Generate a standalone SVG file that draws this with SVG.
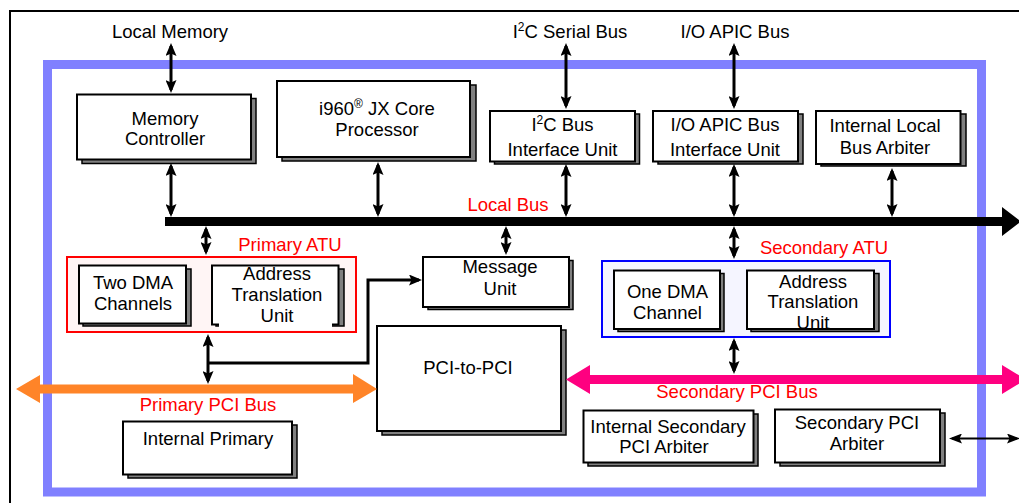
<svg xmlns="http://www.w3.org/2000/svg" width="1019" height="503" viewBox="0 0 1019 503">
<style>
.t{font-family:"Liberation Sans",Arial,Helvetica,sans-serif;font-size:18.5px;text-anchor:middle;fill:#000}
.r{fill:#ff0000}
.box{fill:#fff;stroke:#000;stroke-width:2}
.sh{fill:#808080;stroke:#000;stroke-width:1.5}
.arr{fill:none;stroke:#000;stroke-width:3;marker-start:url(#ah);marker-end:url(#ah)}
.arr1{fill:none;stroke:#000;stroke-width:3;marker-end:url(#ah)}
.arrs{fill:none;stroke:#000;stroke-width:2;marker-start:url(#ahs);marker-end:url(#ahs)}
</style>
<defs>
<marker id="ah" viewBox="0 0 13 11" refX="10" refY="5.5" markerWidth="13" markerHeight="11" markerUnits="userSpaceOnUse" orient="auto-start-reverse"><path d="M0,0 L13,5.5 L0,11 L2.5,5.5 z" fill="#000"/></marker>
<marker id="ahs" viewBox="0 0 13 10" refX="10" refY="5" markerWidth="13" markerHeight="10" markerUnits="userSpaceOnUse" orient="auto-start-reverse"><path d="M0,0 L13,5 L0,10 L2.5,5 z" fill="#000"/></marker>
</defs>
<rect width="1019" height="503" fill="#fff"/>
<g id="frame">
<rect x="10" y="11" width="1030" height="510" fill="none" stroke="#000" stroke-width="2"/>
<rect x="47.5" y="64.5" width="934" height="427.5" fill="none" stroke="#8080ff" stroke-width="9"/>
</g>
<g id="memory-controller">
<rect class="sh" x="82" y="98.5" width="174" height="65"/>
<rect class="box" x="77" y="94.5" width="174" height="65"/>
<text class="t" x="165" y="125">Memory</text>
<text class="t" x="165" y="145">Controller</text>
</g>
<g id="core-processor">
<rect class="sh" x="282" y="85" width="194" height="76"/>
<rect class="box" x="277" y="81" width="193" height="76"/>
<text class="t" x="377" y="115">i960<tspan font-size="12" dy="-7">®</tspan><tspan dy="7"> JX Core</tspan></text>
<text class="t" x="377" y="136">Processor</text>
</g>
<g id="i2c-unit">
<rect class="sh" x="494.5" y="114" width="145" height="50"/>
<rect class="box" x="490" y="111" width="145" height="50.5"/>
<text class="t" x="562.5" y="131">I<tspan font-size="12" dy="-7">2</tspan><tspan dy="7">C Bus</tspan></text>
<text class="t" x="562.5" y="156">Interface Unit</text>
</g>
<g id="ioapic-unit">
<rect class="sh" x="658" y="114" width="145" height="50"/>
<rect class="box" x="653" y="111" width="145" height="50.5"/>
<text class="t" x="725" y="131">I/O APIC Bus</text>
<text class="t" x="725" y="156">Interface Unit</text>
</g>
<g id="local-bus-arbiter">
<rect class="sh" x="821" y="114" width="145" height="52"/>
<rect class="box" x="816" y="111" width="144.5" height="53"/>
<text class="t" x="885" y="132">Internal Local</text>
<text class="t" x="885" y="153.5">Bus Arbiter</text>
</g>
<g id="primary-atu">
<rect x="67" y="257" width="289" height="75" fill="#fff5f5" stroke="#ff0000" stroke-width="2"/>
<text class="t r" x="290" y="251">Primary ATU</text>
<g id="two-dma">
<rect class="sh" x="83" y="269" width="108" height="57"/>
<rect class="box" x="79" y="265.5" width="107" height="58"/>
<text class="t" x="133" y="289">Two DMA</text>
<text class="t" x="133" y="310">Channels</text>
</g>
<g id="primary-address-unit">
<rect class="sh" x="216" y="269" width="128" height="57"/>
<rect class="box" x="212" y="265.5" width="126.5" height="59"/>
<rect x="219" y="321" width="113" height="9" fill="#fff"/>
<text class="t" x="277" y="280">Address</text>
<text class="t" x="277" y="301">Translation</text>
<text class="t" x="277" y="322">Unit</text>
</g>
</g>
<g id="message-unit">
<rect class="sh" x="428" y="260.5" width="145" height="49"/>
<rect class="box" x="423" y="257" width="146" height="50"/>
<text class="t" x="500" y="273">Message</text>
<text class="t" x="500" y="294.5">Unit</text>
</g>
<g id="secondary-atu">
<rect x="602" y="261" width="288" height="76" fill="#f5f5ff" stroke="#0000ff" stroke-width="2"/>
<text class="t r" x="824" y="254">Secondary ATU</text>
<g id="one-dma">
<rect class="sh" x="618" y="273.5" width="106" height="58"/>
<rect class="box" x="614" y="270.5" width="106" height="58.5"/>
<text class="t" x="667.5" y="297.5">One DMA</text>
<text class="t" x="667.5" y="319">Channel</text>
</g>
<g id="secondary-address-unit">
<rect class="sh" x="751" y="273.5" width="128" height="58"/>
<rect class="box" x="747" y="270.5" width="127" height="58.5"/>
<text class="t" x="813" y="287.5">Address</text>
<text class="t" x="813" y="308">Translation</text>
<text class="t" x="813" y="328.5">Unit</text>
</g>
</g>
<g id="pci-to-pci">
<rect class="sh" x="382" y="330" width="184" height="105"/>
<rect class="box" x="377" y="326" width="184" height="105"/>
<text class="t" x="468" y="374">PCI-to-PCI</text>
</g>
<g id="internal-primary">
<rect class="sh" x="128" y="425" width="169" height="53"/>
<rect class="box" x="123" y="421.5" width="169" height="53"/>
<text class="t" x="208" y="445">Internal Primary</text>
</g>
<g id="internal-secondary-arbiter">
<rect class="sh" x="588" y="414" width="170" height="52"/>
<rect class="box" x="583.5" y="410.5" width="170" height="52"/>
<text class="t" x="668" y="432.5">Internal Secondary</text>
<text class="t" x="664" y="452.5">PCI Arbiter</text>
</g>
<g id="secondary-pci-arbiter">
<rect class="sh" x="780" y="413" width="165" height="53"/>
<rect class="box" x="775" y="409.5" width="165" height="53"/>
<text class="t" x="857" y="429">Secondary PCI</text>
<text class="t" x="857" y="450">Arbiter</text>
</g>
<g id="buses">
<path d="M165,217 H1002 V207 L1021,221.5 L1002,236 V226 H165 Z" fill="#000"/>
<path d="M16,389 L40,375 V384.5 H353 V374 L377,389 L353,403 V393.5 H40 V403 Z" fill="#ff8428"/>
<path d="M566,379.5 L590,365 V375 H1002 V365 L1026,379.5 L1002,394 V384 H590 V394 Z" fill="#ff0080"/>
<text class="t r" x="508" y="211">Local Bus</text>
<text class="t r" x="208" y="411">Primary PCI Bus</text>
<text class="t r" x="737" y="398">Secondary PCI Bus</text>
</g>
<g id="connectors">
<line class="arr" x1="171" y1="46" x2="171" y2="90"/>
<line class="arr" x1="171" y1="166" x2="171" y2="214"/>
<line class="arr" x1="378" y1="165" x2="378" y2="214"/>
<line class="arr" x1="566" y1="46" x2="566" y2="106"/>
<line class="arr" x1="566" y1="167" x2="566" y2="214"/>
<line class="arr" x1="734" y1="46" x2="734" y2="106"/>
<line class="arr" x1="734" y1="167" x2="734" y2="214"/>
<line class="arr" x1="892" y1="171" x2="892" y2="214"/>
<line class="arr" x1="206" y1="229" x2="206" y2="252"/>
<line class="arr" x1="506" y1="229" x2="506" y2="252"/>
<line class="arr" x1="734" y1="229" x2="734" y2="256"/>
<line class="arr" x1="734" y1="341" x2="734" y2="371"/>
<line class="arr" x1="208" y1="337" x2="208" y2="381"/>
<polyline class="arr1" points="208,363 368,363 368,280 419,280"/>
<line class="arrs" x1="952" y1="438.5" x2="1017" y2="438.5"/>
</g>
<g id="external-labels">
<text class="t" x="170" y="38">Local Memory</text>
<text class="t" x="570" y="38">I<tspan font-size="12" dy="-7">2</tspan><tspan dy="7">C Serial Bus</tspan></text>
<text class="t" x="735" y="38">I/O APIC Bus</text>
</g>
</svg>
